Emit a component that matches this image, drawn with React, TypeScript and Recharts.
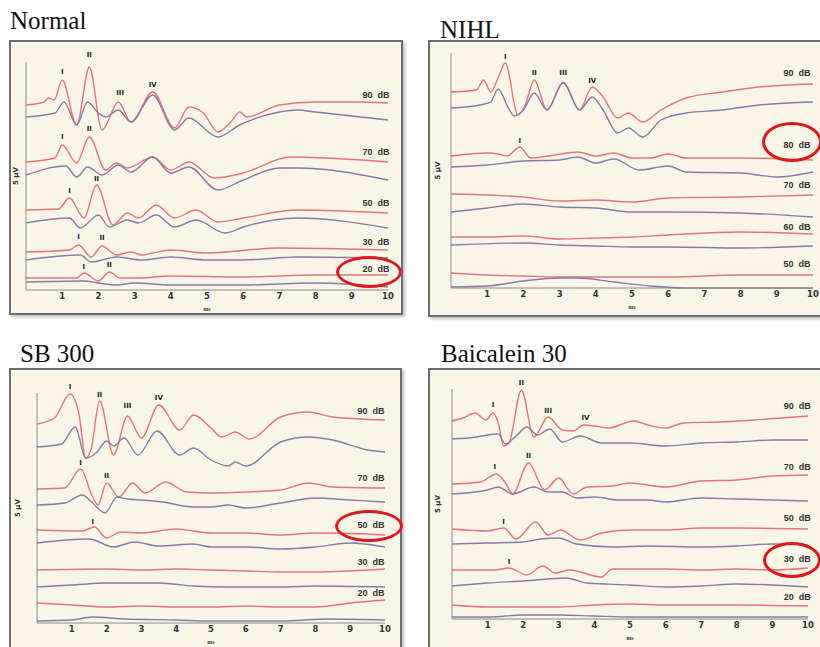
import React from 'react';
import { LineChart, Line, XAxis, YAxis, ReferenceDot } from 'recharts';

// shared x ticks (ms)
const MS_TICKS = [1, 2, 3, 4, 5, 6, 7, 8, 9, 10];

// each trace: [ms, amplitude] in display units (stacked offsets included)
// ---- Normal
const NORMAL_90_R = [[0, 185], [0.5, 188], [0.62, 192], [0.78, 190], [1.0, 210], [1.4, 165], [1.75, 223], [2.1, 160], [2.55, 188], [2.9, 168], [3.5, 198], [4.1, 162], [4.5, 183], [4.9, 177], [5.3, 158], [5.7, 170], [5.9, 178], [6.1, 173], [7.0, 185], [8.0, 188], [9.0, 188], [10, 187]];
const NORMAL_90_B = [[0, 173], [0.8, 177], [1.05, 188], [1.4, 165], [1.7, 188], [2.0, 177], [2.2, 173], [2.55, 180], [2.9, 168], [3.5, 195], [4.1, 160], [4.5, 172], [5.3, 153], [5.9, 165], [7.0, 178], [7.5, 180], [8.0, 178], [10, 170]];
const NORMAL_70_R = [[0, 128], [0.8, 132], [1.0, 145], [1.4, 127], [1.75, 153], [2.2, 120], [2.5, 127], [2.8, 122], [3.5, 133], [4.0, 120], [4.5, 128], [5.2, 112], [6.0, 117], [7.3, 133], [10, 128]];
const NORMAL_70_B = [[0, 115], [1.1, 124], [1.4, 113], [1.7, 123], [2.1, 115], [2.55, 125], [2.9, 118], [3.5, 133], [4.0, 117], [4.5, 123], [5.3, 100], [6.0, 110], [7.0, 122], [7.5, 122], [10, 110]];
const NORMAL_50_R = [[0, 80], [0.9, 81], [1.2, 92], [1.6, 72], [1.95, 105], [2.4, 65], [2.8, 77], [3.1, 72], [3.6, 85], [4.1, 72], [4.7, 80], [5.3, 68], [6.0, 72], [7.5, 80], [10, 77]];
const NORMAL_50_B = [[0, 67], [1.2, 72], [1.5, 62], [2.0, 75], [2.3, 63], [2.8, 70], [3.1, 67], [3.6, 75], [4.1, 63], [4.7, 70], [5.5, 57], [6.0, 63], [7.5, 72], [10, 62]];
const NORMAL_30_R = [[0, 38], [1.2, 40], [1.45, 45], [1.8, 33], [2.1, 44], [2.5, 35], [2.9, 38], [3.2, 35], [3.5, 37], [4.0, 40], [5.0, 37], [7.0, 42], [10, 40]];
const NORMAL_30_B = [[0, 30], [1.5, 35], [1.8, 28], [2.5, 33], [3.2, 30], [4.0, 33], [5.0, 30], [6.0, 30], [7.5, 33], [10, 32]];
const NORMAL_20_R = [[0, 12], [1.4, 12], [1.6, 17], [2.0, 9], [2.3, 18], [2.6, 12], [3.1, 12], [4.0, 14], [6.0, 13], [8.0, 15], [10, 15]];
const NORMAL_20_B = [[0, 8], [1.6, 9], [2.0, 7], [2.5, 5], [3.0, 7], [4.0, 5], [6.0, 5], [8.0, 7], [10, 3]];
const NORMAL_PEAKS = [[1.0, 218, 'I'], [1.75, 235, 'II'], [2.6, 197, 'III'], [3.5, 205, 'IV'], [1.0, 153, 'I'], [1.75, 161, 'II'], [1.2, 99, 'I'], [1.95, 111, 'II'], [1.45, 53, 'I'], [2.1, 52, 'II'], [1.6, 23, 'I'], [2.3, 25, 'II']];
const NORMAL_LEVELS = ['90 dB', '70 dB', '50 dB', '30 dB', '20 dB'];
const NORMAL_LEVEL_Y = [195, 138, 87, 48, 21];

// ---- NIHL
const NIHL_90_R = [[0, 196], [0.7, 198], [0.9, 208], [1.1, 196], [1.3, 210], [1.5, 225], [1.85, 173], [2.05, 183], [2.3, 208], [2.65, 178], [3.1, 206], [3.55, 178], [3.9, 201], [4.2, 191], [4.6, 170], [4.9, 175], [5.3, 166], [5.8, 178], [6.5, 190], [7.5, 196], [8.5, 201], [10, 204]];
const NIHL_90_B = [[0, 180], [0.8, 183], [1.1, 186], [1.3, 199], [1.6, 179], [1.75, 172], [2.0, 178], [2.3, 195], [2.65, 178], [3.1, 205], [3.55, 178], [3.9, 191], [4.2, 178], [4.6, 155], [4.9, 160], [5.3, 151], [5.8, 168], [6.5, 175], [7.5, 178], [8.5, 183], [10, 186]];
const NIHL_80_R = [[0, 132], [1.0, 135], [1.3, 134], [1.55, 132], [1.9, 141], [2.2, 130], [2.7, 132], [3.5, 136], [4.0, 132], [4.5, 135], [5.0, 130], [5.5, 130], [6.0, 134], [6.5, 130], [8.0, 130], [10, 128]];
const NIHL_80_B = [[0, 121], [1.0, 123], [2.0, 127], [3.0, 128], [3.5, 131], [4.0, 125], [4.5, 129], [5.2, 118], [6.0, 122], [6.5, 116], [8.0, 115], [9.0, 111], [10, 116]];
const NIHL_70_R = [[0, 94], [1.0, 93], [2.0, 91], [3.0, 87], [4.0, 88], [5.0, 86], [6.0, 90], [8.0, 91], [10, 93]];
const NIHL_70_B = [[0, 76], [1.0, 80], [2.0, 84], [3.0, 81], [4.0, 80], [5.0, 76], [6.0, 76], [8.0, 75], [10, 71]];
const NIHL_60_R = [[0, 51], [1.0, 51], [2.0, 52], [3.0, 49], [4.0, 50], [5.0, 51], [6.0, 53], [8.0, 56], [10, 54]];
const NIHL_60_B = [[0, 43], [2.0, 45], [3.0, 43], [4.0, 42], [5.0, 41], [6.0, 41], [8.0, 40], [10, 42]];
const NIHL_50_R = [[0, 15], [1.0, 13], [2.0, 12], [3.0, 11], [4.0, 11], [5.0, 11], [6.0, 11], [8.0, 13], [10, 13]];
const NIHL_50_B = [[0, 1], [1.0, 2], [2.0, 7], [3.0, 10], [3.5, 10], [4.5, 6], [5.5, 2], [6.5, 0], [10, 0]];
const NIHL_PEAKS = [[1.5, 231, 'I'], [2.3, 215, 'II'], [3.1, 215, 'III'], [3.9, 207, 'IV'], [1.9, 147, 'I']];
const NIHL_LEVELS = ['90 dB', '80 dB', '70 dB', '60 dB', '50 dB'];
const NIHL_LEVEL_Y = [215, 143, 103, 61, 24];

// ---- SB 300
const SB_90_R = [[0, 199], [0.5, 205], [0.95, 229], [1.2, 210], [1.4, 165], [1.55, 173], [1.8, 222], [2.2, 168], [2.6, 207], [3.0, 185], [3.5, 218], [4.1, 193], [4.5, 208], [5.0, 195], [5.3, 186], [5.7, 191], [6.1, 184], [7.0, 206], [7.8, 211], [8.5, 206], [10, 203]];
const SB_90_B = [[0, 176], [0.7, 179], [1.1, 196], [1.4, 165], [1.7, 170], [2.0, 182], [2.2, 177], [2.5, 185], [2.9, 168], [3.45, 192], [4.1, 168], [4.5, 175], [5.0, 163], [5.5, 157], [5.7, 161], [6.0, 157], [7.0, 181], [7.8, 186], [8.5, 183], [9.5, 173], [10, 171]];
const SB_70_R = [[0, 134], [0.8, 135], [1.25, 154], [1.6, 126], [1.75, 118], [2.0, 140], [2.35, 126], [2.75, 140], [3.1, 130], [3.7, 141], [4.3, 131], [5.0, 130], [6.0, 131], [7.0, 133], [7.8, 140], [8.5, 136], [10, 135]];
const SB_70_B = [[0, 118], [0.8, 120], [1.3, 128], [1.6, 120], [1.95, 110], [2.3, 126], [2.6, 124], [3.0, 123], [3.6, 121], [4.5, 116], [5.0, 116], [5.5, 118], [6.0, 115], [7.0, 120], [8.0, 125], [9.0, 123], [10, 121]];
const SB_50_R = [[0, 93], [1.3, 92], [1.65, 96], [2.0, 85], [2.4, 91], [3.0, 90], [4.0, 94], [5.0, 90], [6.0, 90], [7.0, 88], [8.0, 90], [9.5, 89], [10, 88]];
const SB_50_B = [[0, 80], [1.5, 84], [2.2, 76], [2.8, 81], [3.5, 77], [4.5, 79], [5.0, 76], [6.0, 76], [7.0, 74], [8.0, 76], [9.0, 80], [10, 76]];
const SB_30_R = [[0, 53], [2.0, 54], [3.0, 53], [4.0, 54], [5.0, 53], [6.0, 52], [7.0, 51], [8.0, 51], [10, 54]];
const SB_30_B = [[0, 36], [1.0, 38], [2.0, 40], [3.0, 40], [3.5, 40], [4.5, 37], [5.5, 36], [7.0, 36], [8.0, 37], [10, 36]];
const SB_20_R = [[0, 20], [1.0, 18], [2.0, 16], [3.0, 17], [4.0, 16], [5.0, 16], [6.0, 17], [7.0, 16], [8.0, 16], [9.0, 20], [10, 23]];
const SB_20_B = [[0, 2], [1.0, 3], [1.6, 6], [2.5, 4], [4.0, 3], [5.0, 2], [7.0, 2], [8.4, 4], [10, 3]];
const SB_PEAKS = [[0.95, 236, 'I'], [1.8, 228, 'II'], [2.6, 217, 'III'], [3.5, 225, 'IV'], [1.25, 160, 'I'], [2.0, 147, 'II'], [1.6, 101, 'I']];
const SB_LEVELS = ['90 dB', '70 dB', '50 dB', '30 dB', '20 dB'];
const SB_LEVEL_Y = [212, 145, 98, 61, 30];

// ---- Baicalein 30
const BAI_90_R = [[0, 198], [0.3, 201], [0.65, 206], [0.95, 199], [1.15, 206], [1.3, 196], [1.45, 173], [1.6, 176], [1.95, 229], [2.3, 182], [2.7, 202], [3.1, 189], [3.4, 188], [3.7, 194], [4.0, 193], [4.4, 191], [5.1, 198], [5.5, 194], [6.0, 191], [6.5, 196], [7.5, 197], [8.5, 199], [10, 203]];
const BAI_90_B = [[0, 180], [0.7, 182], [1.0, 184], [1.3, 185], [1.5, 175], [1.8, 183], [2.1, 192], [2.4, 184], [2.75, 190], [3.1, 177], [3.6, 183], [4.2, 176], [5.0, 176], [6.0, 173], [7.0, 176], [8.0, 177], [9.0, 179], [10, 179]];
const BAI_70_R = [[0, 135], [0.8, 137], [1.25, 145], [1.5, 136], [1.7, 125], [2.15, 156], [2.6, 129], [3.0, 141], [3.4, 125], [3.8, 132], [4.5, 133], [5.0, 136], [6.0, 132], [7.0, 138], [8.0, 139], [9.0, 143], [10, 144]];
const BAI_70_B = [[0, 125], [1.0, 129], [1.3, 132], [1.7, 125], [2.3, 132], [2.7, 127], [3.1, 127], [3.5, 121], [4.0, 122], [4.7, 119], [5.5, 119], [6.0, 117], [7.0, 121], [8.0, 120], [10, 118]];
const BAI_50_R = [[0, 90], [1.0, 88], [1.45, 91], [1.8, 80], [2.35, 97], [2.7, 84], [3.05, 89], [3.6, 79], [4.2, 86], [5.0, 89], [6.0, 89], [7.0, 91], [8.0, 91], [10, 90]];
const BAI_50_B = [[0, 75], [1.0, 76], [2.0, 77], [2.5, 80], [3.0, 81], [3.5, 75], [4.5, 72], [5.5, 73], [7.0, 72], [8.0, 73], [9.0, 75], [10, 74]];
const BAI_30_R = [[0, 49], [1.2, 49], [1.6, 51], [2.1, 44], [2.55, 53], [2.9, 46], [3.3, 49], [4.2, 42], [4.5, 50], [6.0, 50], [7.0, 49], [8.0, 50], [9.0, 49], [10, 51]];
const BAI_30_B = [[0, 33], [1.0, 36], [2.0, 38], [3.2, 41], [3.8, 36], [5.0, 34], [6.0, 32], [7.0, 33], [8.0, 35], [10, 32]];
const BAI_20_R = [[0, 14], [1.0, 12], [2.0, 12], [3.0, 12], [4.0, 14], [5.0, 15], [6.0, 14], [8.0, 14], [10, 13]];
const BAI_20_B = [[0, 2], [1.0, 2], [2.0, 4], [3.0, 4], [4.0, 3], [5.0, 2], [6.0, 2], [8.0, 2], [10, 2]];
const BAI_PEAKS = [[1.15, 214, 'I'], [1.95, 236, 'II'], [2.7, 208, 'III'], [3.75, 201, 'IV'], [1.2, 152, 'I'], [2.15, 163, 'II'], [1.45, 97, 'I'], [1.6, 57, 'I']];
const BAI_LEVELS = ['90 dB', '70 dB', '50 dB', '30 dB', '20 dB'];
const BAI_LEVEL_Y = [213, 152, 101, 60, 22];

const RED = '#e7727c';
const BLUE = '#877ca8';

const toPts = (arr) => arr.map(([ms, uv]) => ({ ms, uv }));

const PANELS = [
  {
    title: 'Normal', titleX: 10, titleY: 8,
    box: { left: 9, top: 40, width: 394, height: 275 },
    x0: 26, x10: 388, yTop: 62, yBase: 290, yMax: 228, yAxisW: 20,
    yTicks: [30, 68, 105, 142, 178, 215],
    red: [NORMAL_90_R, NORMAL_70_R, NORMAL_50_R, NORMAL_30_R, NORMAL_20_R],
    blue: [NORMAL_90_B, NORMAL_70_B, NORMAL_50_B, NORMAL_30_B, NORMAL_20_B],
    peaks: NORMAL_PEAKS, levels: NORMAL_LEVELS, levelY: NORMAL_LEVEL_Y, levelX: 9.67,
    ring: { cx: 369, cy: 272, rx: 33, ry: 16 },
  },
  {
    title: 'NIHL', titleX: 440, titleY: 17,
    box: { left: 428, top: 40, width: 400, height: 277 },
    x0: 451, x10: 813, yTop: 53, yBase: 288, yMax: 235, yAxisW: 26,
    yTicks: [11, 48, 85, 122, 159, 196],
    red: [NIHL_90_R, NIHL_80_R, NIHL_70_R, NIHL_60_R, NIHL_50_R],
    blue: [NIHL_90_B, NIHL_80_B, NIHL_70_B, NIHL_60_B, NIHL_50_B],
    peaks: NIHL_PEAKS, levels: NIHL_LEVELS, levelY: NIHL_LEVEL_Y, levelX: 9.56,
    ring: { cx: 792, cy: 142, rx: 30, ry: 20 },
  },
  {
    title: 'SB 300', titleX: 20, titleY: 341,
    box: { left: 9, top: 368, width: 393, height: 290 },
    x0: 37, x10: 385, yTop: 393, yBase: 623, yMax: 230, yAxisW: 38,
    yTicks: [35, 70, 100, 133, 168, 200],
    red: [SB_90_R, SB_70_R, SB_50_R, SB_30_R, SB_20_R],
    blue: [SB_90_B, SB_70_B, SB_50_B, SB_30_B, SB_20_B],
    peaks: SB_PEAKS, levels: SB_LEVELS, levelY: SB_LEVEL_Y, levelX: 9.6,
    ring: { cx: 369, cy: 526, rx: 34, ry: 16 },
  },
  {
    title: 'Baicalein 30', titleX: 441, titleY: 341,
    box: { left: 428, top: 368, width: 400, height: 290 },
    x0: 452, x10: 808, yTop: 389, yBase: 619, yMax: 230, yAxisW: 28,
    yTicks: [15, 49, 87, 124, 164, 194],
    red: [BAI_90_R, BAI_70_R, BAI_50_R, BAI_30_R, BAI_20_R],
    blue: [BAI_90_B, BAI_70_B, BAI_50_B, BAI_30_B, BAI_20_B],
    peaks: BAI_PEAKS, levels: BAI_LEVELS, levelY: BAI_LEVEL_Y, levelX: 9.7,
    ring: { cx: 792, cy: 560, rx: 29, ry: 18 },
  },
];

const M_TOP = 20;
const M_RIGHT = 16;
const X_AXIS_H = 21;

function AbrPanel({ p }) {
  const plotW = p.x10 - p.x0;
  const plotH = p.yBase - p.yTop;
  const width = p.yAxisW + plotW + M_RIGHT;
  const height = M_TOP + plotH + X_AXIS_H + 2;
  return (
    <>
      <div
        style={{
          position: 'absolute', left: p.box.left, top: p.box.top, width: p.box.width, height: p.box.height,
          boxSizing: 'border-box', border: '2px solid #6e6e6e', background: '#f9f6e7',
          boxShadow: '2px 2px 3px rgba(0,0,0,0.25)',
        }}
      />
      <div
        style={{
          position: 'absolute', left: p.titleX, top: p.titleY, fontFamily: '"Liberation Serif", "Times New Roman", serif',
          fontSize: 25, lineHeight: '25px', color: '#111', whiteSpace: 'nowrap',
        }}
      >
        {p.title}
      </div>
      <div style={{ position: 'absolute', left: p.x0 - p.yAxisW, top: p.yTop - M_TOP }}>
        <LineChart width={width} height={height} margin={{ top: M_TOP, right: M_RIGHT, bottom: 2, left: 0 }}>
          <XAxis
            type="number" dataKey="ms" domain={[0, 10]} ticks={MS_TICKS} allowDuplicatedCategory={false}
            height={X_AXIS_H} tickLine={false} tickSize={0} tickMargin={3}
            axisLine={{ stroke: '#8a8a8a' }}
            tick={{ fontSize: 8.5, fontWeight: 'bold', fill: '#333', fontFamily: '"DejaVu Sans", sans-serif' }}
            label={{ value: 'ms', position: 'insideBottom', offset: 0, fontSize: 6, fontWeight: 'bold', fill: '#333' }}
          />
          <YAxis
            type="number" dataKey="uv" domain={[0, p.yMax]} ticks={p.yTicks} width={p.yAxisW}
            tick={false} tickSize={3} tickLine={{ stroke: '#9a9a9a' }} axisLine={{ stroke: '#8a8a8a' }}
            label={{ value: '5 µV', angle: -90, position: 'center', fontSize: 7, fontWeight: 'bold', fill: '#333', fontFamily: '"DejaVu Sans", sans-serif' }}
          />
          {p.red.map((tr, i) => (
            <Line key={`r${i}`} data={toPts(tr)} dataKey="uv" type="monotone" stroke={RED} strokeWidth={1.4} dot={false} isAnimationActive={false} />
          ))}
          {p.blue.map((tr, i) => (
            <Line key={`b${i}`} data={toPts(tr)} dataKey="uv" type="monotone" stroke={BLUE} strokeWidth={1.4} dot={false} isAnimationActive={false} />
          ))}
          {p.peaks.map(([ms, uv, name], i) => (
            <ReferenceDot
              key={`p${i}`} x={ms} y={uv} r={0} fill="none" stroke="none" ifOverflow="visible"
              label={{ value: name, position: 'center', fontSize: 7, fontWeight: 'bold', fill: '#222', fontFamily: '"DejaVu Sans", sans-serif' }}
            />
          ))}
          {p.levels.map((lv, i) => (
            <ReferenceDot
              key={`l${i}`} x={p.levelX} y={p.levelY[i]} r={0} fill="none" stroke="none" ifOverflow="visible"
              label={{ value: lv.replace(' ', '\u00a0\u00a0'), position: 'center', fontSize: 9, fontWeight: 'bold', fill: '#333', fontFamily: '"Liberation Sans", Arial, sans-serif' }}
            />
          ))}
        </LineChart>
      </div>
      <div
        style={{
          position: 'absolute', left: p.ring.cx - p.ring.rx, top: p.ring.cy - p.ring.ry,
          width: p.ring.rx * 2, height: p.ring.ry * 2, boxSizing: 'border-box',
          border: '3px solid #e0161d', borderRadius: '50%',
        }}
      />
    </>
  );
}

export default function App() {
  return (
    <div style={{ position: 'absolute', left: 0, top: 0, width: 820, height: 647, overflow: 'hidden', background: '#fff' }}>
      {PANELS.map((p) => (
        <AbrPanel key={p.title} p={p} />
      ))}
    </div>
  );
}
